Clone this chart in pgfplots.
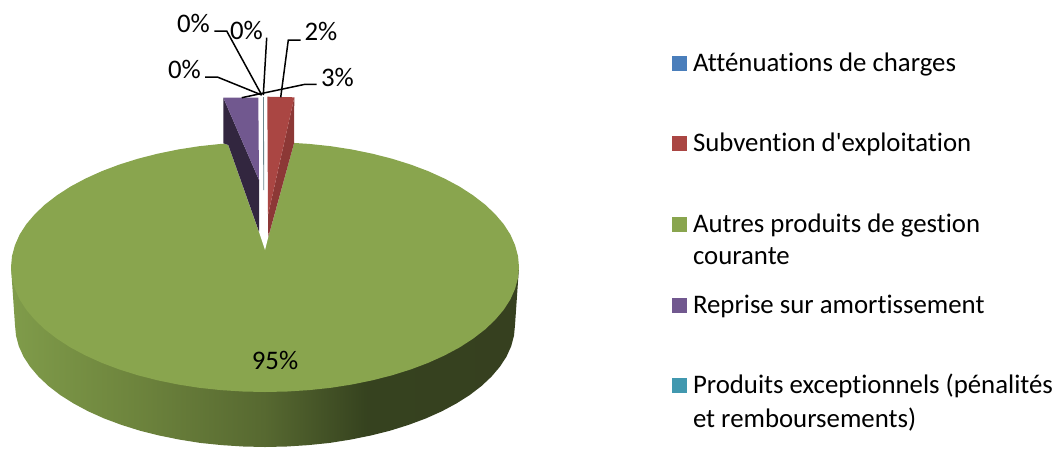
\documentclass[border=0pt]{standalone}
\usepackage{pgfplots}
\pgfplotsset{compat=1.18}
\usepackage{fontspec}
\setmainfont{Carlito}[Ligatures={CommonOff,TeXOff}]
\pgfdeclarehorizontalshading{sidegreen}{100bp}{rgb(0bp)=(0.50,0.61,0.29); rgb(25bp)=(0.50,0.61,0.29); rgb(37bp)=(0.43,0.52,0.24); rgb(50bp)=(0.34,0.41,0.19); rgb(60bp)=(0.21,0.26,0.12); rgb(75bp)=(0.21,0.25,0.12); rgb(100bp)=(0.21,0.25,0.12)}
\definecolor{cblue}{HTML}{4A7EBB}
\definecolor{cred}{HTML}{AA4643}
\definecolor{cgreen}{HTML}{89A54E}
\definecolor{cpurple}{HTML}{71588F}
\definecolor{cteal}{HTML}{4198AF}
\definecolor{dpurple}{HTML}{32263F}
\definecolor{dred}{HTML}{8C3836}
\begin{document}
\begin{tikzpicture}
\begin{axis}[
  scale only axis, width=1056pt, height=448pt,
  xmin=0, xmax=1056, ymin=0, ymax=448, y dir=reverse,
  hide axis, clip=false,
]
% page frame
\addplot[draw=none] coordinates {(0,0) (1056,448)};
% side of the pie
\addplot[draw=none, shade, shading=sidegreen] coordinates {
 (11,267) (519,267) (515,325) (514,335.6) (511.2,346.2) (506.5,356.6) (499.9,366.7) (491.5,376.6) (481.5,386) (469.8,395) (456.5,403.4) (441.8,411.3) (425.7,418.5) (408.5,424.9) (390,430.7) (370.8,435.5) (350.5,439.6) (329.8,442.9) (308.4,445.1) (286.8,446.5) (265,447)
 (243.2,446.5) (221.6,445.1) (200.2,442.9) (179.5,439.6) (159.2,435.5) (140,430.7) (121.5,424.9) (104.3,418.5) (88.2,411.3) (73.5,403.4) (60.2,395) (48.5,386) (38.5,376.6) (30.1,366.7) (23.5,356.6) (18.8,346.2) (16,335.6) (15,325)
} --cycle;
% top of the green slice
\addplot[draw=none, fill=cgreen] coordinates {
 (519,267) (518,277.9) (515.1,288.7) (510.4,299.4) (503.7,309.8) (495.1,319.9) (485,329.5) (473,338.7) (459.6,347.4) (444.6,355.4) (428.3,362.8) (410.8,369.4) (392,375.3) (372.4,380.3) (351.9,384.5) (330.8,387.8) (309.1,390.1) (287.1,391.5) (265,392)
 (242.9,391.5) (220.9,390.1) (199.2,387.8) (178.1,384.5) (157.6,380.3) (138,375.3) (119.2,369.4) (101.7,362.8) (85.4,355.4) (70.4,347.4) (57,338.7) (45,329.5) (34.9,319.9) (26.3,309.8) (19.6,299.4) (14.9,288.7) (12,277.9) (11,267)
 (12,256.1) (14.9,245.3) (19.6,234.6) (26.3,224.2) (34.9,214.1) (45,204.5) (57,195.3) (70.4,186.6) (85.4,178.6) (101.7,171.2) (119.2,164.6) (138,158.7) (157.6,153.7) (178.1,149.5) (199.2,146.2) (220.9,143.9) (242.9,142.5) (265,142) (287.1,142.5) (309.1,143.9) (330.8,146.2) (351.9,149.5) (372.4,153.7) (392,158.7) (410.8,164.6) (428.3,171.2) (444.6,178.6) (459.6,186.6) (473,195.3) (485,204.5) (495.1,214.1) (503.7,224.2) (510.4,234.6) (515.1,245.3) (518,256.1)
} --cycle;
% notch
\addplot[draw=none, fill=white] coordinates {(223.5,135) (294,135) (294,143) (268.3,237) (265,250) (259,232) (228.3,145) (223.5,143.3)} --cycle;
% purple slice
\addplot[draw=none, fill=dpurple] coordinates {(223.3,97.7) (223.3,143.3) (228.3,145) (259,231.7) (259,180)} --cycle;
\addplot[draw=none, fill=cpurple] coordinates {(223.3,97.7) (258.3,97.7) (259,180)} --cycle;
% red slice
\addplot[draw=none, fill=dred] coordinates {(294.3,97.3) (294,143.3) (268.3,237) (268,215)} --cycle;
\addplot[draw=none, fill=cred] coordinates {(267.3,96.7) (294.3,97.3) (268,215)} --cycle;
% thin slices
\addplot[line width=0.8pt, color=gray!70!cteal] coordinates {(263.5,97) (263.7,190)};
% leader lines
\addplot[black, line width=1.5pt] coordinates {(205,77) (217.3,77) (261.7,95)};
\addplot[black, line width=1.5pt] coordinates {(214.3,31) (226.7,31) (261.7,95)};
\addplot[black, line width=1.5pt] coordinates {(266.7,37.7) (263.3,95)};
\addplot[black, line width=1.5pt] coordinates {(300.7,40) (288.3,40) (280.7,97.3)};
\addplot[black, line width=1.5pt] coordinates {(316.7,84.3) (305,84.3) (241.7,97.7)};
% legend swatches
\addplot[draw=none, fill=cblue] coordinates {(672,56) (687,56) (687,71) (672,71)} --cycle;
\addplot[draw=none, fill=cred] coordinates {(672,136) (687,136) (687,151) (672,151)} --cycle;
\addplot[draw=none, fill=cgreen] coordinates {(672,217) (687,217) (687,232) (672,232)} --cycle;
\addplot[draw=none, fill=cpurple] coordinates {(672,298) (687,298) (687,313) (672,313)} --cycle;
\addplot[draw=none, fill=cteal] coordinates {(672,378) (687,378) (687,393) (672,393)} --cycle;
% texts
\tikzset{every node/.style={inner sep=0pt, outer sep=0pt, font=\fontsize{26.8}{30}\selectfont}}
\node[anchor=base] at (axis cs:193.5,32) {0\%};
\node[anchor=base] at (axis cs:246.5,39) {0\%};
\node[anchor=base] at (axis cs:184.5,78) {0\%};
\node[anchor=base] at (axis cs:321,40) {2\%};
\node[anchor=base] at (axis cs:337.5,86) {3\%};
\node[anchor=base] at (axis cs:275,369) {95\%};
\node[anchor=base west] at (axis cs:693,71) {Atténuations de charges};
\node[anchor=base west] at (axis cs:693,151) {Subvention d'exploitation};
\node[anchor=base west] at (axis cs:693,232) {Autres produits de gestion};
\node[anchor=base west] at (axis cs:693,264) {courante};
\node[anchor=base west] at (axis cs:693,313) {Reprise sur amortissement};
\node[anchor=base west] at (axis cs:693,393) {Produits exceptionnels (pénalités};
\node[anchor=base west] at (axis cs:693,427) {et remboursements)};
\end{axis}
\end{tikzpicture}
\end{document}
